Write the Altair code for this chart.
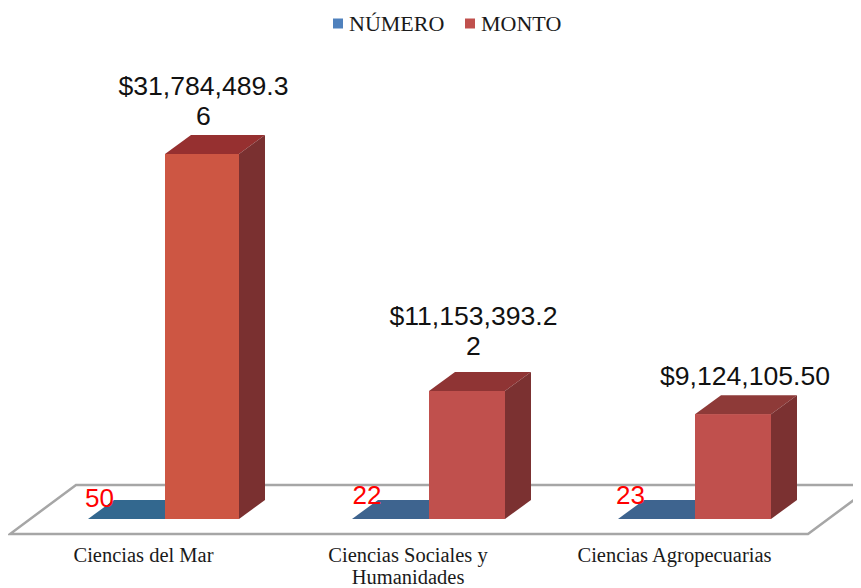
import altair as alt
import pandas as pd

# ---- values
categories = ["Ciencias del Mar", "Ciencias Sociales y\nHumanidades", "Ciencias Agropecuarias"]
numero = [50, 22, 23]
monto = [31784489.36, 11153393.22, 9124105.50]
monto_labels = ["$31,784,489.3\n6", "$11,153,393.2\n2", "$9,124,105.50"]
numero_labels = ["50", "22", "23"]

# ---- layout (page pixels) and styles
PX_PER_VALUE = 365 / 31784489.36
BASE_PX = 519
DEPTH_X, DEPTH_Y = 26, 19
bar_left = [165, 429, 695]
bar_width = [74, 76, 76]
blue_width = 77
front_col = ["#CD5643", "#C0504D", "#C0504D"]
top_col = ["#963030", "#8F3434", "#8E3A38"]
side_col = ["#7A3030", "#7B3131", "#7B3131"]
blue_col = ["#33688F", "#3E648F", "#3E648F"]
label_x = [203.5, 473.5, 745]
label_base_px = [95, 325, 385]
num_x = [99.5, 367, 630.5]
num_base_px = [507, 504, 504]
cat_x = [143.5, 408, 674.5]
cat_base_px = [562, 562, 562]
SERIF = "Liberation Serif"
SANS = "Liberation Sans"


def v(px):
    return (BASE_PX - px) / PX_PER_VALUE


W, H = 845, 580
X = alt.Scale(domain=[8, 853], range=[0, W])
Y = alt.Scale(domain=[v(588), v(8)], range=[H, 0])
xe = alt.X("x:Q", scale=X, axis=None)
ye = alt.Y("y:Q", scale=Y, axis=None)

carrier, fronts, tops, sides = [], [], [], []
for i in range(3):
    l, w, m = bar_left[i], bar_width[i], monto[i]
    n = numero[i]
    d = v(BASE_PX - DEPTH_Y)
    carrier.append(dict(series="NÚMERO", x=l - blue_width, x2=l, y=0, y2=n))
    carrier.append(dict(series="MONTO", x=l, x2=l + w, y=0, y2=m))
    fronts.append(dict(x=l, x2=l + w, y=0, y2=m, c=front_col[i]))
    # side face: vertical edges
    sides += [
        dict(id=f"s{i}", x=l + w, y=0, y2=m, c=side_col[i]),
        dict(id=f"s{i}", x=l + w + DEPTH_X, y=d, y2=m + d, c=side_col[i]),
    ]
    # top face: horizontal edges
    tops += [
        dict(id=f"t{i}", y=m, x=l, x2=l + w, c=top_col[i]),
        dict(id=f"t{i}", y=m + d, x=l + DEPTH_X, x2=l + w + DEPTH_X, c=top_col[i]),
        dict(id=f"b{i}", y=n, x=l - blue_width, x2=l, c=blue_col[i]),
        dict(id=f"b{i}", y=n + d, x=l - blue_width + DEPTH_X, x2=l, c=blue_col[i]),
    ]

floor = pd.DataFrame([
    dict(id="f", y=v(534), x=10, x2=808),
    dict(id="f", y=v(485), x=76, x2=874),
])

floor_layer = alt.Chart(floor).mark_area(
    orient="horizontal", fill="white", stroke="#A6A6A6", strokeWidth=2.5, clip=True
).encode(x=xe, x2="x2:Q", y=ye, detail="id:N")

carrier_layer = alt.Chart(pd.DataFrame(carrier)).mark_rect().encode(
    x=xe, x2="x2:Q", y=ye, y2="y2:Q",
    color=alt.Color(
        "series:N",
        scale=alt.Scale(domain=["NÚMERO", "MONTO"], range=["#4F81BD", "#C0504D"]),
        legend=alt.Legend(
            title=None, orient="none", legendX=319, legendY=4.5, direction="horizontal",
            symbolType="square", symbolSize=100, symbolStrokeWidth=0, labelOffset=0,
            labelFont=SERIF, labelFontSize=22, labelColor="#1A1A1A", columnPadding=14,
            padding=0,
        ),
    ),
)

tops_layer = alt.Chart(pd.DataFrame(tops)).mark_area(orient="horizontal").encode(
    x=xe, x2="x2:Q", y=ye, detail="id:N",
    fill=alt.Fill("c:N", scale=None),
)
sides_layer = alt.Chart(pd.DataFrame(sides)).mark_area(orient="vertical").encode(
    x=xe, y=ye, y2="y2:Q", detail="id:N",
    fill=alt.Fill("c:N", scale=None),
)
fronts_layer = alt.Chart(pd.DataFrame(fronts)).mark_rect().encode(
    x=xe, x2="x2:Q", y=ye, y2="y2:Q",
    fill=alt.Fill("c:N", scale=None),
)

monto_text = alt.Chart(pd.DataFrame(dict(
    x=label_x, y=[v(p) for p in label_base_px], t=monto_labels
))).mark_text(
    font=SANS, fontSize=26.6, color="#111111", lineBreak="\n", lineHeight=30,
    align="center", baseline="alphabetic",
).encode(x=xe, y=ye, text="t:N")

num_text = alt.Chart(pd.DataFrame(dict(
    x=num_x, y=[v(p) for p in num_base_px], t=numero_labels
))).mark_text(
    font=SANS, fontSize=26, color="#FF0000", align="center", baseline="alphabetic",
).encode(x=xe, y=ye, text="t:N")

cat_text = alt.Chart(pd.DataFrame(dict(
    x=cat_x, y=[v(p) for p in cat_base_px], t=categories
))).mark_text(
    font=SERIF, fontSize=20.5, color="#1A1A1A", lineBreak="\n", lineHeight=22,
    align="center", baseline="alphabetic",
).encode(x=xe, y=ye, text="t:N")

chart = alt.layer(
    floor_layer, carrier_layer, tops_layer, sides_layer, fronts_layer,
    monto_text, num_text, cat_text,
).properties(
    width=W, height=H, padding=0, autosize=alt.AutoSizeParams(type="none"),
    background="white",
).configure_view(stroke=None)

chart.save("out.html", embed_options={"renderer": "svg", "actions": False})
